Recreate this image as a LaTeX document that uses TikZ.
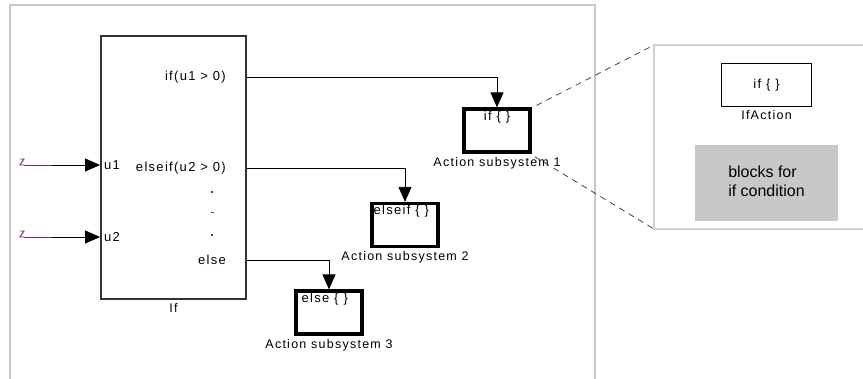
\documentclass[tikz,border=0pt]{standalone}
\usepackage{fontspec}
\setmainfont{Liberation Sans}
\newfontfamily\simfont[LetterSpace=10]{Liberation Sans}
\usetikzlibrary{arrows.meta}
\definecolor{sigpurple}{RGB}{110,40,110}
\definecolor{framegray}{RGB}{200,200,200}
\definecolor{blockgray}{RGB}{200,200,200}
\tikzset{
  sig/.style={line width=0.8pt,-{Triangle[length=15pt,width=13pt]}},
  ifblock/.style={draw=black!80,line width=1.8pt,minimum width=145pt,minimum height=263pt,inner sep=0pt},
  actbox/.style={draw,line width=3.2pt,minimum width=66pt,minimum height=43pt,inner sep=0pt},
  lbl/.style={font=\simfont\fontsize{12.5}{14}\selectfont},
  portlbl/.style={font=\simfont\fontsize{13}{15}\selectfont,inner sep=1pt},
  zoomline/.style={sigpurple,line width=0.8pt,dash pattern=on 6pt off 5pt},
}
\begin{document}
\begin{tikzpicture}[x=1pt,y=-1pt]
    \clip (0,0) rectangle (863,379);
    % frames
    \draw[framegray,line width=1.6pt] (10,395) -- (10,5) -- (595,5) -- (595,395);
    \draw[framegray!85,line width=1.2pt] (880,45) -- (654,45) -- (654,229) -- (880,229);
    % if block
    \node[ifblock,label={[lbl]below:If}] (ifb) at (173.5,167.5) {};
    \node[portlbl,anchor=west] (u1) at (103,165) {u1};
    \node[portlbl,anchor=west] (u2) at (103,237) {u2};
    \node[portlbl,anchor=east] (c1) at (227,77) {if(u1 > 0)};
    \node[portlbl,anchor=east] (c2) at (227,168) {elseif(u2 > 0)};
    \node[portlbl] (c3) at (212,260) {else};
    \foreach \y in {191,234}
        \fill[sigpurple] (211,\y) rectangle ++(2,2);
    \fill[sigpurple] (211,212) rectangle ++(3,1);
    % action subsystems
    \node[actbox,label={[lbl]below:Action subsystem 1},
          label={[portlbl,anchor=north,yshift=-2pt]north:if \{ \}}] (act1) at (497,130.5) {};
    \node[actbox,label={[lbl]below:Action subsystem 2},
          label={[portlbl,anchor=north west,xshift=2pt,yshift=-2pt]north west:elseif \{ \}}] (act2) at (405,225) {};
    \node[actbox,label={[lbl]below:Action subsystem 3},
          label={[portlbl,anchor=north west,xshift=6pt,yshift=-2pt]north west:else \{ \}}] (act3) at (329,312.5) {};
    % inputs
    \coordinate (in1) at (24,165);
    \coordinate (in2) at (24,237);
    \coordinate (k1) at (52,165);
    \coordinate (k2) at (52,237);
    \foreach \i in {in1,in2}
        \draw[sigpurple,line width=0.9pt] (\i) ++(-4,-6) -- ++(4,0) -- ++(-4,6) -- ++(4,0);
    \draw[sigpurple,line width=0.8pt] (in1) -- (k1);
    \draw[sigpurple,line width=0.8pt] (in2) -- (k2);
    \draw[sig] (k1) -- (ifb.west |- k1);
    \draw[sig] (k2) -- (ifb.west |- k2);
    % outputs
    \draw[sig] (ifb.east |- 0,77) -| (act1.north);
    \draw[sig] (ifb.east |- 0,168) -| (act2.north);
    \draw[sig] (ifb.east |- 0,260) -| (act3.north);
    % zoomed view of subsystem 1
    \node[draw,line width=1.4pt,minimum width=90pt,minimum height=43pt,portlbl,
          label={[lbl]below:IfAction}] (ifact) at (766.5,85) {if \{ \}};
    \node[fill=blockgray,minimum width=143pt,minimum height=76pt,
          font=\fontsize{16}{19}\selectfont] (blk) at (766.5,183)
          {\begin{tabular}{@{}l@{}}blocks for\\if condition\end{tabular}};
    \coordinate (pnw) at (654,45);
    \coordinate (psw) at (654,229);
    \draw[zoomline] ([shift={(5,-2)}]act1.north east) -- (pnw);
    \draw[zoomline] ([shift={(3,3)}]act1.south east) -- (psw);
\end{tikzpicture}
\end{document}
